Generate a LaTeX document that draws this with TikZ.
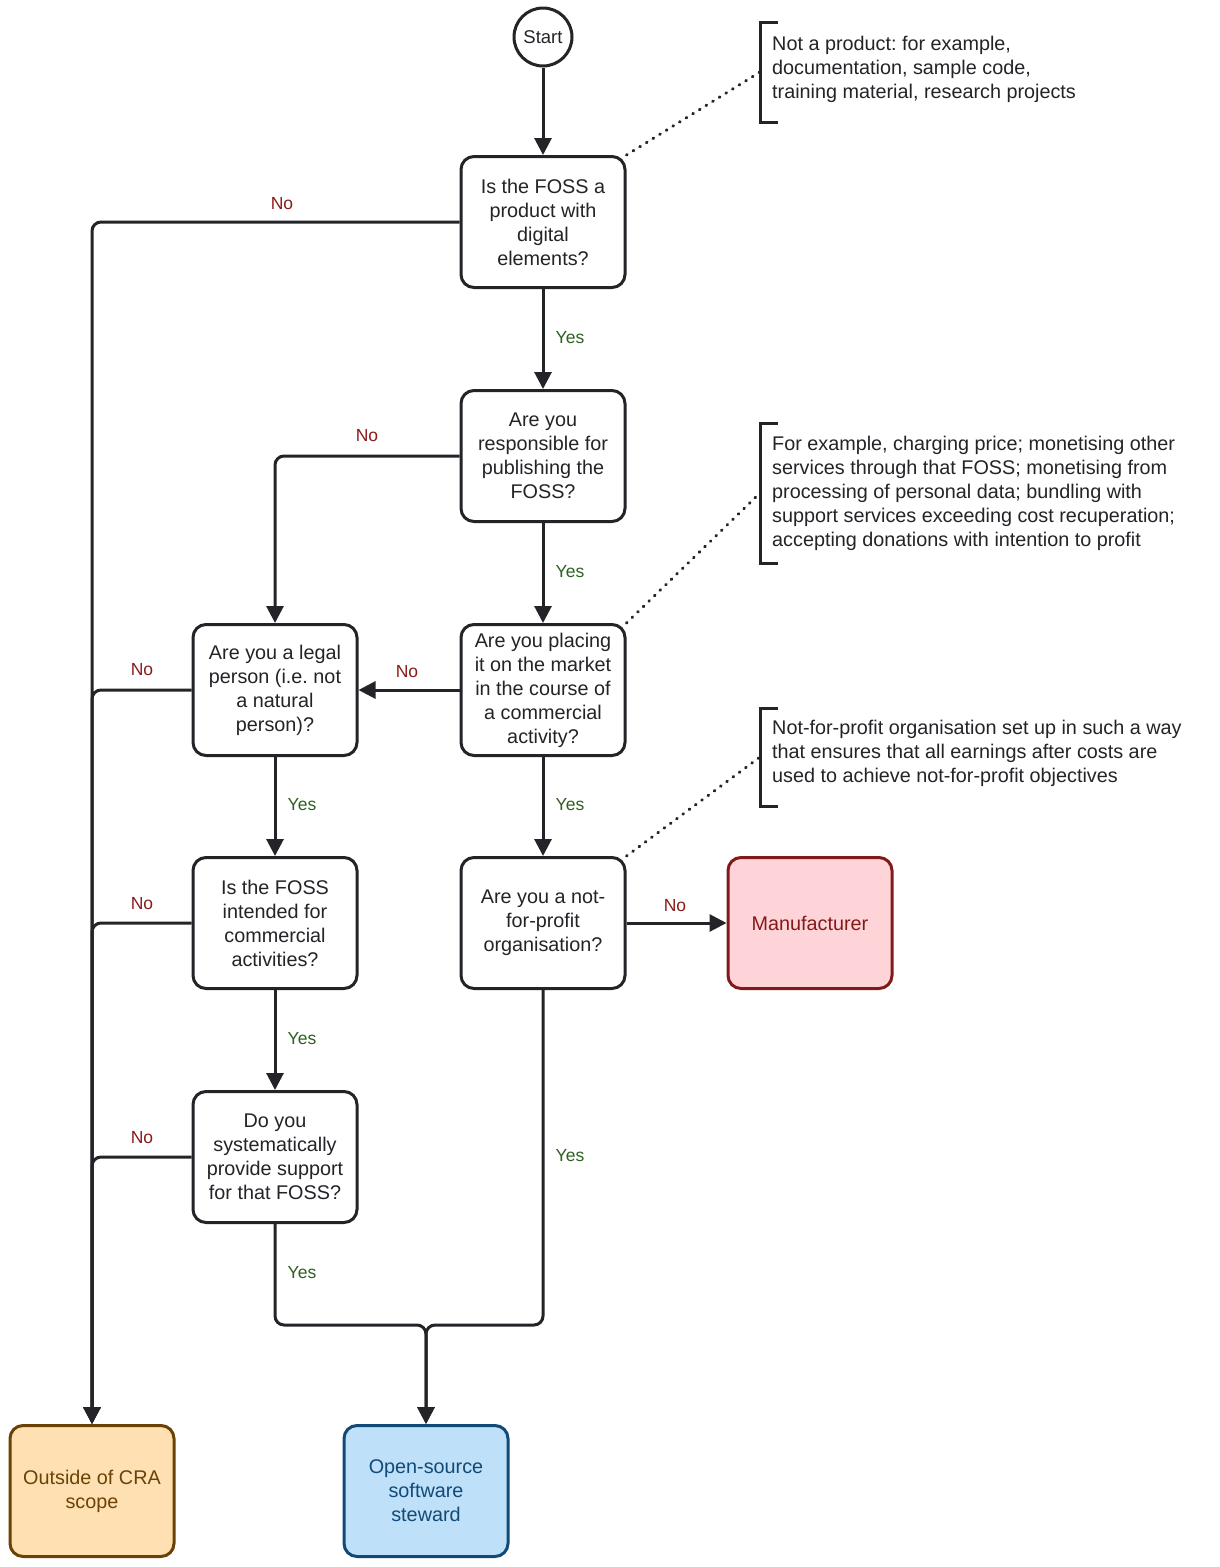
\documentclass[tikz,border=0pt]{standalone}
\usepackage{fontspec}
\setmainfont{Liberation Sans}
\usetikzlibrary{arrows.meta}
\frenchspacing
\definecolor{ink}{HTML}{232428}
\definecolor{nocol}{HTML}{8B1A1A}
\definecolor{yescol}{HTML}{2E6121}
\definecolor{outfill}{HTML}{FFE0B2}
\definecolor{outdraw}{HTML}{6B4206}
\definecolor{stwfill}{HTML}{BEE0F8}
\definecolor{stwdraw}{HTML}{124A77}
\definecolor{manfill}{HTML}{FFD4D9}
\definecolor{mandraw}{HTML}{831A1A}
\begin{document}
\frenchspacing
\begin{tikzpicture}[x=1pt,y=-1pt,
  box/.style={draw=ink, line width=3pt, rounded corners=13pt, minimum width=164pt, minimum height=131pt, align=center, inner sep=0pt, font=\fontsize{19.8}{24}\selectfont, text=ink},
  edge/.style={draw=ink, line width=3pt, rounded corners=9pt, -{Triangle[length=17pt,width=17pt]}},
  nolbl/.style={font=\fontsize{17.5}{18}\selectfont, text=nocol, inner sep=0pt},
  yeslbl/.style={font=\fontsize{17.5}{18}\selectfont, text=yescol, inner sep=0pt},
  note/.style={font=\fontsize{19.8}{24}\selectfont, text=ink, align=left, anchor=west, inner sep=0pt},
  bracket/.style={draw=ink, line width=3pt},
  dots/.style={draw=ink, line width=3pt, line cap=round, dash pattern=on 0.8pt off 7pt}
]
\useasboundingbox (0,0) rectangle (1220,1567);
\fill[white] (0,0) rectangle (1220,1567);

% nodes
\node[draw=ink, line width=3pt, circle, minimum size=58pt, inner sep=0pt, font=\fontsize{18.5}{20}\selectfont, text=ink] (start) at (543,37) {Start};
\node[box] (q1) at (543,222) {Is the FOSS a\\product with\\digital\\elements?};
\node[box] (q2) at (543,456) {Are you\\responsible for\\publishing the\\FOSS?};
\node[box] (q3) at (543,690) {Are you placing\\it on the market\\in the course of\\a commercial\\activity?};
\node[box] (q4) at (275,690) {Are you a legal\\person (i.e. not\\a natural\\person)?};
\node[box] (q5) at (543,923) {Are you a not-\\for-profit\\organisation?};
\node[box] (q6) at (275,923) {Is the FOSS\\intended for\\commercial\\activities?};
\node[box] (q7) at (275,1157) {Do you\\systematically\\provide support\\for that FOSS?};
\node[box, fill=manfill, draw=mandraw, text=mandraw] (man) at (810,923) {Manufacturer};
\node[box, fill=outfill, draw=outdraw, text=outdraw] (out) at (92,1491) {Outside of CRA\\scope};
\node[box, fill=stwfill, draw=stwdraw, text=stwdraw] (stw) at (426,1491) {Open-source\\software\\steward};

\coordinate (jn) at (426,1325);

% edges
\draw[edge] (start.south) -- (q1.north);
\draw[edge] (q1.west) -| (out.north);
\draw[edge] (q1.south) -- (q2.north);
\draw[edge] (q2.west) -| (q4.north);
\draw[edge] (q2.south) -- (q3.north);
\draw[edge] (q3.west) -- (q4.east);
\draw[edge] (q3.south) -- (q5.north);
\draw[edge] (q4.west) -| (out.north);
\draw[edge] (q4.south) -- (q6.north);
\draw[edge] (q6.west) -| (out.north);
\draw[edge] (q6.south) -- (q7.north);
\draw[edge] (q7.west) -| (out.north);
\draw[edge] (q5.east) -- (man.west);
\draw[edge] (q7.south) |- (jn) -- (stw.north);
\draw[edge] (q5.south) |- (jn) -- (stw.north);

% labels
\node[nolbl] (l1) at (282,204) {No};
\node[yeslbl] (l2) at (570,338) {Yes};
\node[nolbl] (l3) at (367,436) {No};
\node[yeslbl] (l4) at (570,572) {Yes};
\node[nolbl] (l5) at (142,670) {No};
\node[nolbl] (l6) at (407,672) {No};
\node[yeslbl] (l7) at (302,805) {Yes};
\node[yeslbl] (l8) at (570,805) {Yes};
\node[nolbl] (l9) at (142,904) {No};
\node[nolbl] (l10) at (675,906) {No};
\node[yeslbl] (l11) at (302,1039) {Yes};
\node[nolbl] (l12) at (142,1138) {No};
\node[yeslbl] (l13) at (570,1156) {Yes};
\node[yeslbl] (l14) at (302,1273) {Yes};

% notes
\coordinate (b1t) at (760,22); \coordinate (b1b) at (760,122); \coordinate (b1m) at (760,72);
\draw[bracket] (778,22) -- (b1t) -- (b1b) -- (778,122);
\node[note] (n1) at (772,69) {Not a product: for example,\\documentation, sample code,\\training material, research projects};
\draw[dots] (q1.north east) -- (b1m);

\coordinate (b2t) at (760,423); \coordinate (b2b) at (760,563); \coordinate (b2m) at (760,493);
\draw[bracket] (778,423) -- (b2t) -- (b2b) -- (778,563);
\node[note] (n2) at (772,493) {For example, charging price; monetising other\\services through that FOSS; monetising from\\processing of personal data; bundling with\\support services exceeding cost recuperation;\\accepting donations with intention to profit};
\draw[dots] (q3.north east) -- (b2m);

\coordinate (b3t) at (760,708); \coordinate (b3b) at (760,806); \coordinate (b3m) at (760,757);
\draw[bracket] (778,708) -- (b3t) -- (b3b) -- (778,806);
\node[note] (n3) at (772,753) {Not-for-profit organisation set up in such a way\\that ensures that all earnings after costs are\\used to achieve not-for-profit objectives};
\draw[dots] (q5.north east) -- (b3m);
\end{tikzpicture}
\end{document}
